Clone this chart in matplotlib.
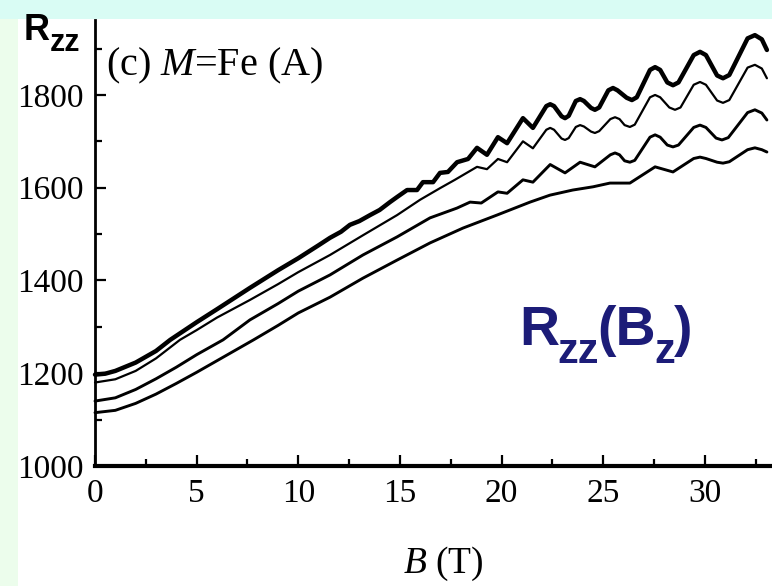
import matplotlib
matplotlib.use('Agg')
import matplotlib.pyplot as plt
from matplotlib.patches import Rectangle
from matplotlib.ticker import MultipleLocator, FixedLocator

# ---------------- data ----------------
b_curve1 = [0, 0.5, 1, 2, 3, 3.7, 5, 6, 7.62, 9, 10, 11, 11.56, 12.1, 12.54, 13.0, 13.53,
            14.0, 14.51, 14.86, 15.35, 15.84, 16.13, 16.63, 16.97, 17.36, 17.81, 18.35,
            18.79, 19.28, 19.82, 20.27, 21.05, 21.54, 22.2, 22.39, 22.58, 22.95, 23.12, 23.3,
            23.65, 23.86, 24.05, 24.4, 24.59, 24.8, 25.25, 25.48, 25.7, 26.15, 26.41, 26.65,
            27.3, 27.55, 27.8, 28.15, 28.43, 28.7, 29.45, 29.76, 30.05, 30.6, 30.89, 31.2,
            32.1, 32.46, 32.8, 33.05]
r_curve1 = [1197, 1199, 1205, 1223, 1248, 1272, 1310, 1338, 1384, 1422, 1448, 1476, 1492, 1505,
            1520, 1528, 1541, 1552, 1569, 1580, 1595, 1595, 1612, 1612, 1632, 1634, 1655, 1662,
            1686, 1671, 1709, 1696, 1750, 1729, 1776, 1780, 1776, 1754, 1750, 1755,
            1787, 1791, 1787, 1772, 1768, 1773, 1810, 1815, 1810, 1794, 1789, 1795,
            1854, 1860, 1854, 1827, 1821, 1827, 1886, 1893, 1886, 1842, 1836, 1843,
            1922, 1929, 1920, 1897]

b_curve2 = [0, 1, 2, 3, 4.18, 5, 6, 7.62, 9, 10, 11.56, 13.2, 14.86, 15.99, 16.97, 17.7, 18.79,
            19.28, 19.82, 20.27, 21.05, 21.54, 22.2, 22.39, 22.58, 22.95, 23.12, 23.3, 23.65,
            23.86, 24.05, 24.4, 24.59, 24.8, 25.35, 25.58, 25.8, 26.05, 26.31, 26.55, 27.3,
            27.55, 27.8, 28.25, 28.53, 28.8, 29.45, 29.76, 30.05, 30.6, 30.89, 31.2, 32.1,
            32.46, 32.8, 33.05]
r_curve2 = [1180, 1187, 1205, 1232, 1272, 1293, 1320, 1358, 1392, 1418, 1455, 1498, 1541, 1574,
            1599, 1617, 1645, 1640, 1662, 1655, 1700, 1685, 1725, 1729, 1725, 1706, 1703, 1707,
            1731, 1735, 1732, 1721, 1718, 1722, 1748, 1752, 1748, 1735, 1731, 1736, 1795,
            1800, 1795, 1773, 1768, 1773, 1822, 1828, 1822, 1788, 1783, 1789, 1859,
            1865, 1857, 1836]

b_curve3 = [0, 1, 2, 3, 4, 5, 6.3, 7.62, 9, 10, 11.56, 13.18, 14.86, 16.48, 17.8, 18.45, 19.0,
            19.82, 20.27, 21.05, 21.54, 22.39, 23.12, 23.86, 24.59, 25.35, 25.58, 25.8, 26.05,
            26.31, 26.55, 27.3, 27.55, 27.8, 28.15, 28.43, 28.7, 29.45, 29.76, 30.05, 30.55,
            30.84, 31.15, 32.1, 32.46, 32.8, 33.05]
r_curve3 = [1140, 1147, 1165, 1188, 1213, 1240, 1272, 1315, 1350, 1377, 1412, 1455, 1494, 1535,
            1556, 1569, 1567, 1591, 1588, 1617, 1612, 1650, 1632, 1655, 1645, 1671, 1675, 1671,
            1658, 1655, 1659, 1709, 1714, 1709, 1692, 1688, 1692, 1730, 1735, 1730, 1707,
            1703, 1708, 1762, 1768, 1761, 1746]

b_curve4 = [0, 1, 2, 3, 4, 5, 6, 7.8, 9, 10, 11.56, 13.18, 14.86, 16.48, 18.1, 19.77, 21.4,
            22.38, 23.5, 24.5, 25.33, 26.31, 27.55, 28.43, 29.45, 29.76, 30.05, 30.6, 30.89,
            31.2, 32.1, 32.46, 32.8, 33.05]
r_curve4 = [1115, 1120, 1135, 1155, 1178, 1202, 1227, 1272, 1303, 1330, 1364, 1405, 1444, 1481,
            1513, 1541, 1569, 1584, 1595, 1602, 1610, 1610, 1645, 1634, 1663, 1666, 1663, 1655,
            1653, 1656, 1682, 1686, 1682, 1677]

x_major = [0, 5, 10, 15, 20, 25, 30]
y_major = [1000, 1200, 1400, 1600, 1800]
panel_text = r'(c) $M$=Fe (A)'
x_label = r'$B$ (T)'

# ---------------- drawing ----------------
plt.rcParams['mathtext.fontset'] = 'custom'
plt.rcParams['mathtext.rm'] = 'Liberation Serif'
plt.rcParams['mathtext.it'] = 'Liberation Serif:italic'

W, H = 772, 586
fig = plt.figure(figsize=(W / 100, H / 100), dpi=100, facecolor='#d9fcf4')
fig.patches.append(Rectangle((0, 0), 18 / W, (H - 19) / H, transform=fig.transFigure,
                             facecolor='#ecfdec', edgecolor='none', zorder=-10))
fig.patches.append(Rectangle((18 / W, 0), 1 - 18 / W, (H - 19) / H, transform=fig.transFigure,
                             facecolor='white', edgecolor='none', zorder=-10))

ax = fig.add_axes([95 / W, (H - 466) / H, (W - 95) / W, 446 / H])
ax.set_facecolor('none')
ax.set_xlim(0, 677 / 20.33)
ax.set_ylim(1000, 1000 + 446 / 0.4638)

for b, r, lw in [(b_curve1, r_curve1, 3.2), (b_curve2, r_curve2, 1.6),
                 (b_curve3, r_curve3, 2.1), (b_curve4, r_curve4, 2.1)]:
    ax.plot(b, r, color='black', lw=lw, solid_joinstyle='round', solid_capstyle='round',
            clip_on=False)

for s in ['top', 'right']:
    ax.spines[s].set_visible(False)
ax.spines['left'].set_linewidth(2.0)
ax.spines['bottom'].set_linewidth(3.0)

ax.xaxis.set_major_locator(FixedLocator(x_major))
ax.xaxis.set_minor_locator(MultipleLocator(2.5))
ax.yaxis.set_major_locator(FixedLocator(y_major))
ax.yaxis.set_minor_locator(MultipleLocator(100))
ax.tick_params(which='both', direction='in', width=1.6, colors='black')
ax.tick_params(which='major', length=8)
ax.tick_params(which='minor', length=5)
ax.tick_params(axis='x', pad=9)
ax.tick_params(axis='y', pad=8)
for lab in ax.get_xticklabels() + ax.get_yticklabels():
    lab.set_fontfamily('Liberation Serif')
    lab.set_fontsize(24)

ax.text(11 / 677, (466 - 66) / 446, panel_text, transform=ax.transAxes,
        fontsize=29, family='Liberation Serif', va='center', ha='left')
fig.text(443 / W, (H - 564) / H, x_label, fontsize=27, family='Liberation Serif',
         ha='center', va='center')

# top-left R_zz
t1 = fig.text(24 / W, (H - 40) / H, 'R', fontsize=26, fontweight='bold',
              family='Liberation Sans', va='baseline', ha='left')
ax.annotate('zz', xy=(1, 0), xycoords=t1, xytext=(0, -7), textcoords='offset points',
            fontsize=22, fontweight='bold', family='Liberation Sans', va='bottom',
            ha='left', annotation_clip=False)

# big navy R_zz(B_z)
navy = '#1c1c78'
big, small = 40, 30
kw = dict(fontweight='bold', family='Liberation Sans', color=navy, va='bottom',
          ha='left', annotation_clip=False, textcoords='offset points')
n1 = fig.text(519 / W, (H - 345) / H, 'R', fontsize=big, fontweight='bold',
              family='Liberation Sans', color=navy, va='baseline', ha='left')
n2 = ax.annotate('zz', xy=(1, 0), xycoords=n1, xytext=(-1.5, -11), fontsize=small, **kw)
n3 = ax.annotate('(B', xy=(1, 0), xycoords=n2, xytext=(-0.5, 11), fontsize=big, **kw)
n4 = ax.annotate('z', xy=(1, 0), xycoords=n3, xytext=(-1.5, -11), fontsize=small, **kw)
n5 = ax.annotate(')', xy=(1, 0), xycoords=n4, xytext=(-0.5, 11), fontsize=big, **kw)

fig.savefig('out.png', dpi=100, facecolor=fig.get_facecolor())
